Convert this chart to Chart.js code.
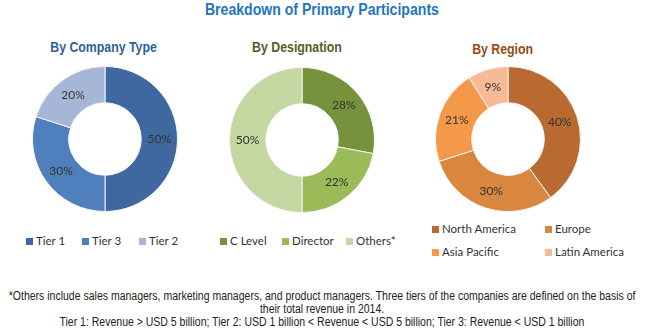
<!DOCTYPE html>
<html>
<head>
<meta charset="utf-8">
<script src="https://cdn.jsdelivr.net/npm/chart.js@4"></script>
<style>
    body { margin: 0; width: 650px; height: 332px; background: #fff; position: relative; overflow: hidden; font-family: Lato, "Open Sans", sans-serif; }
    .narrow { font-family: "Liberation Sans", Arial, sans-serif; }
    .row { position: absolute; text-align: center; white-space: nowrap; }
    .row b, .row em { display: inline-block; font-style: normal; transform-origin: center; }
    #title { left: 0; width: 644px; top: 1px; font-size: 16px; color: #1f74bf; }
    #title b { transform: scaleX(0.88); }
    .sub { top: 39px; width: 200px; font-size: 14px; }
    .sub b { transform: scaleX(0.88); }
    .box { position: absolute; width: 146px; height: 146px; }
    .legend { position: absolute; font-size: 11.5px; color: #333; }
    .legend span { position: absolute; white-space: nowrap; line-height: 12px; }
    .legend i { display: inline-block; width: 7px; height: 7px; margin-right: 3px; vertical-align: 0px; }
    .note { left: -200px; width: 1044px; font-size: 12px; line-height: 13px; color: #222; }
    .note em { transform: scaleX(0.875); }
</style>
</head>
<body>
<div id="title" class="row narrow"><b>Breakdown of Primary Participants</b></div>
<div class="row sub narrow" style="left:4px;color:#2f5f97;"><b>By Company Type</b></div>
<div class="row sub narrow" style="left:197px;color:#4f6228;"><b>By Designation</b></div>
<div class="row sub narrow" style="left:403px;top:41px;color:#984a14;"><b>By Region</b></div>

<div class="box" style="left:32px;top:66px;"><canvas id="c1"></canvas></div>
<div class="box" style="left:229px;top:67px;"><canvas id="c2"></canvas></div>
<div class="box" style="left:435px;top:66px;"><canvas id="c3"></canvas></div>

<div class="legend" id="l1"></div>
<div class="legend" id="l2"></div>
<div class="legend" id="l3"></div>

<div class="row note narrow" style="top:290px;"><em>*Others include sales managers, marketing managers, and product managers. Three tiers of the companies are defined on the basis of</em></div>
<div class="row note narrow" style="top:303px;"><em>their total revenue in 2014.</em></div>
<div class="row note narrow" style="top:316px;"><em>Tier 1: Revenue &gt; USD 5 billion; Tier 2: USD 1 billion &lt; Revenue &lt; USD 5 billion; Tier 3: Revenue &lt; USD 1 billion</em></div>

<script>
// data
const companyLabels = ['Tier 1', 'Tier 3', 'Tier 2'];
const companyValues = [50, 30, 20];
const designationLabels = ['C Level', 'Director', 'Others*'];
const designationValues = [28, 22, 50];
const regionLabels = ['North America', 'Europe', 'Asia Pacific', 'Latin America'];
const regionValues = [40, 30, 21, 9];

const companyColors = ['#3e689f', '#4f7fbd', '#a6b6d7'];
const designationColors = ['#76923c', '#9bbb59', '#c4d7a1'];
const regionColors = ['#b96a31', '#d9873f', '#f49849', '#f8b996'];

/**
 * Draws the percentage in the middle of each slice.
 */
const sliceLabels = {
    id: 'sliceLabels',
    afterDatasetsDraw(chart) {
        let ctx = chart.ctx;
        let meta = chart.getDatasetMeta(0);
        let values = chart.data.datasets[0].data;
        ctx.save();
        ctx.font = '12px Lato, "Open Sans", sans-serif';
        ctx.fillStyle = '#333';
        ctx.textAlign = 'center';
        ctx.textBaseline = 'middle';
        meta.data.forEach((arc, i) => {
            let p = arc.getCenterPoint();
            ctx.fillText(values[i] + '%', p.x, p.y);
        });
        ctx.restore();
    }
};

function makeDonut(id, labels, values, colors) {
    return new Chart(document.getElementById(id), {
        type: 'doughnut',
        data: {
            labels: labels,
            datasets: [{
                data: values,
                backgroundColor: colors,
                borderColor: '#f4f4f4',
                borderWidth: 1
            }]
        },
        options: {
            responsive: true,
            maintainAspectRatio: false,
            animation: false,
            cutout: '50%',
            layout: { padding: 0 },
            plugins: {
                legend: { display: false },
                tooltip: { enabled: false }
            }
        },
        plugins: [sliceLabels]
    });
}

/**
 * Builds a legend from labels, colors and item positions.
 */
function makeLegend(id, labels, colors, spots) {
    let el = document.getElementById(id);
    labels.forEach((label, i) => {
        let s = document.createElement('span');
        s.style.left = spots[i][0] + 'px';
        s.style.top = spots[i][1] + 'px';
        s.innerHTML = '<i style="background:' + colors[i] + '"></i>' + label;
        el.appendChild(s);
    });
}

makeDonut('c1', companyLabels, companyValues, companyColors);
makeDonut('c2', designationLabels, designationValues, designationColors);
makeDonut('c3', regionLabels, regionValues, regionColors);

makeLegend('l1', companyLabels, companyColors, [[26, 235], [82, 235], [139, 235]]);
makeLegend('l2', designationLabels, designationColors, [[220, 235], [282, 235], [346, 235]]);
makeLegend('l3', regionLabels, regionColors, [[432, 223], [545, 223], [432, 246], [545, 246]]);
</script>
</body>
</html>
